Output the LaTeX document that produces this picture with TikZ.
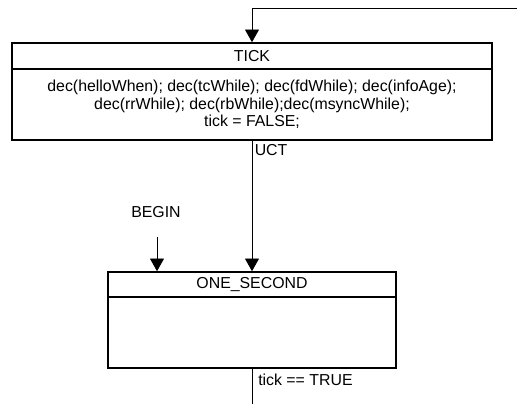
\documentclass[tikz,border=0pt]{standalone}
\usepackage{fontspec}
\setmainfont{Liberation Sans}
\usetikzlibrary{arrows.meta}

\tikzset{
  statetitle/.style={draw, line width=1.2pt, minimum width=360pt, inner sep=0pt},
  statebody/.style={draw, line width=1.2pt, minimum width=360pt, inner sep=0pt, align=center},
  trans/.style={line width=0.6pt, -{Triangle[length=9.5pt,width=10.5pt]}},
  plain/.style={line width=0.6pt},
  lbl/.style={font=\fontsize{11.9}{13}\selectfont, inner sep=0pt}
}

\begin{document}
\begin{tikzpicture}[x=0.75pt,y=-0.75pt]
\useasboundingbox (0,0) rectangle (517,404);

% TICK state
\node[statetitle, minimum height=19.5pt, lbl] (tick) at (252,56) {TICK};
\node[statebody, minimum height=53.25pt, lbl] (tickbody) at (252,104.5)
  {dec(helloWhen); dec(tcWhile); dec(fdWhile); dec(infoAge);\\
   dec(rrWhile); dec(rbWhile);dec(msyncWhile);\\
   tick = FALSE;};

% ONE_SECOND state
\node[statetitle, minimum width=216pt, minimum height=18.75pt, lbl] (onesec) at (252,284.5) {ONE\_SECOND};
\node[statebody, minimum width=216pt, minimum height=53.25pt] (onesecbody) at (252,332.5) {};

% transitions
\coordinate (loopin) at (517,8);
\draw[trans] (loopin) -| (tick.north);

\draw[trans] (tickbody.south) -- (onesec.north);
\node[lbl, anchor=north west] (uct) at (254.5,144) {UCT};

\node[lbl] (begin) at (156,212) {BEGIN};
\coordinate (beginstart) at (157,237);
\draw[trans] (beginstart) -- (beginstart |- onesec.north);

\coordinate (loopout) at (252,404);
\draw[plain] (onesecbody.south) -- (loopout);
\node[lbl, anchor=west] (ticktrue) at (258,380) {tick == TRUE};
\end{tikzpicture}
\end{document}
